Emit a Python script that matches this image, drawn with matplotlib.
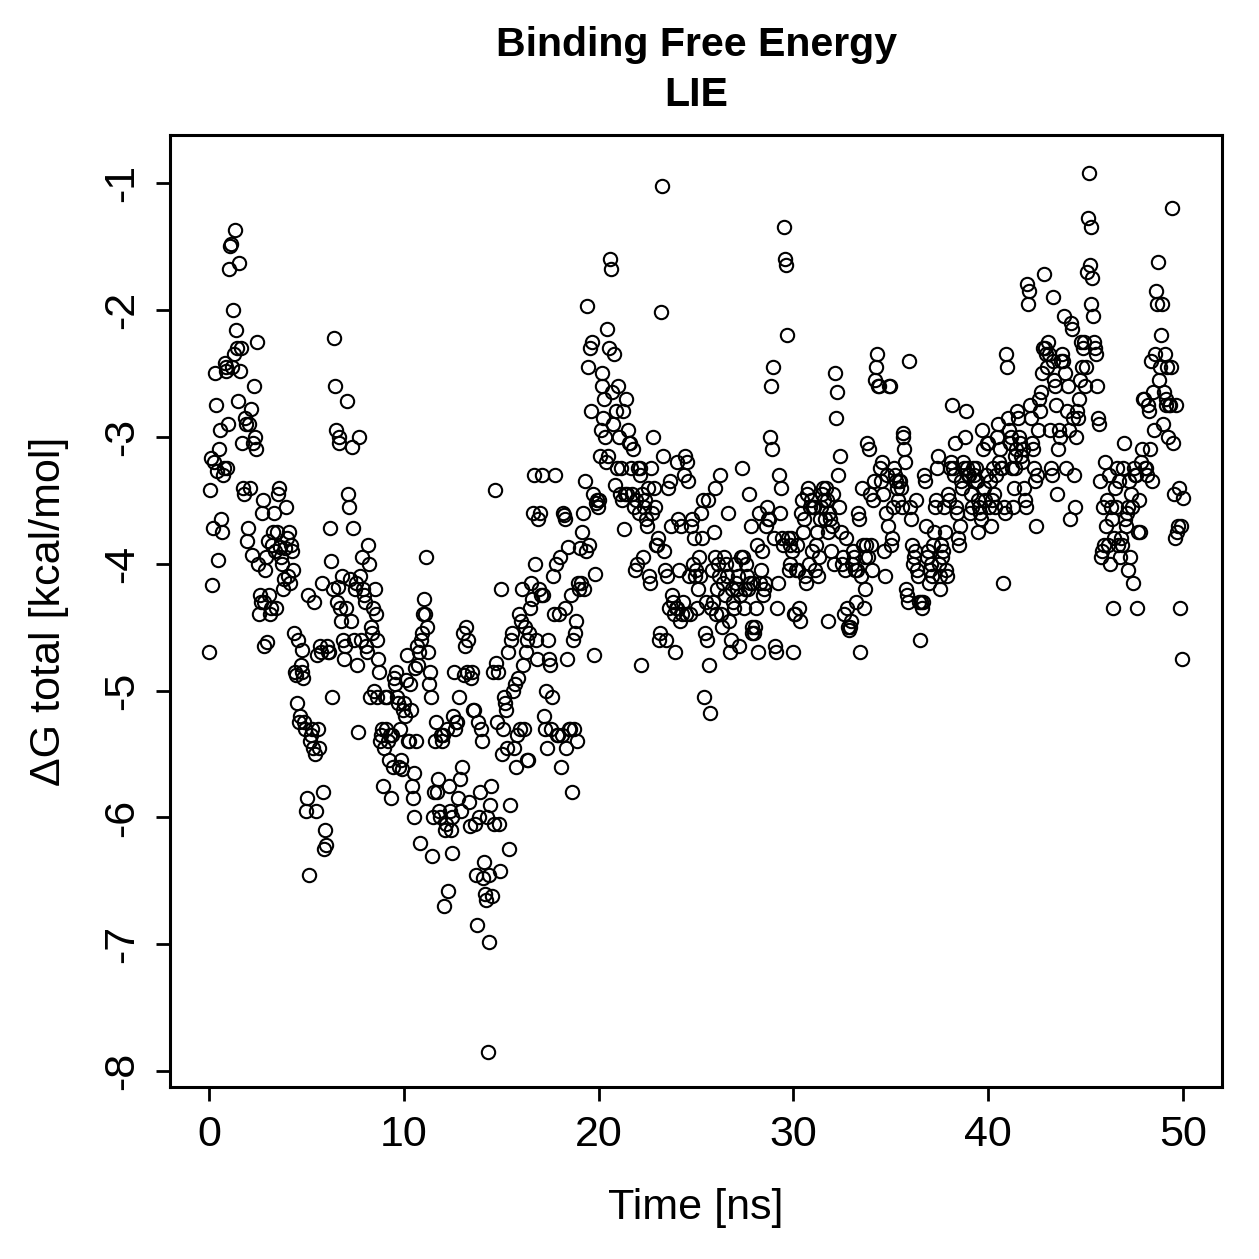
import matplotlib
matplotlib.use("Agg")
import matplotlib.pyplot as plt
import numpy as np

plt.rcParams['font.family'] = ['Liberation Sans', 'DejaVu Sans']

# Delta G values per nanosecond (20 frames per ns, 0.05 ns apart)
dg_by_ns = [
    [-4.7, -3.42, -3.17, -4.17, -3.72, -3.2, -2.5, -2.75, -3.27, -3.97, -3.1, -2.95, -3.65, -3.75, -3.3, -3.25, -2.42, -2.45, -2.48, -3.25],
    [-2.9, -1.68, -1.5, -1.48, -2.45, -2.0, -2.35, -1.37, -2.16, -2.3, -2.72, -1.63, -2.48, -2.3, -3.05, -3.4, -3.45, -2.85, -2.9, -3.82],
    [-3.72, -2.9, -3.4, -2.78, -3.93, -3.05, -2.6, -3.0, -3.1, -2.25, -4.0, -4.4, -4.25, -4.3, -3.6, -3.5, -4.65, -4.3, -4.05, -3.95],
    [-4.62, -3.82, -4.25, -4.4, -4.35, -3.85, -3.75, -3.6, -3.9, -4.35, -3.75, -3.45, -3.4, -3.87, -3.95, -4.0, -4.2, -4.12, -3.88, -3.55],
    [-3.8, -4.1, -3.75, -4.15, -3.85, -3.9, -4.05, -4.55, -4.85, -4.88, -5.1, -4.6, -5.25, -5.2, -4.8, -4.68, -4.85, -4.9, -5.25, -5.3],
    [-5.95, -5.85, -4.25, -6.45, -5.4, -5.35, -5.3, -5.45, -4.3, -5.5, -5.95, -4.72, -5.3, -5.45, -4.65, -4.7, -4.15, -5.8, -6.25, -6.1],
    [-6.22, -4.65, -4.7, -4.7, -3.72, -3.98, -5.05, -4.2, -2.22, -2.6, -2.95, -4.3, -4.18, -3.0, -3.05, -4.35, -4.45, -4.1, -4.6, -4.75],
    [-4.65, -4.35, -2.72, -3.45, -3.55, -4.12, -4.45, -3.08, -3.72, -4.6, -4.2, -4.15, -4.8, -5.33, -3.0, -4.1, -4.6, -3.95, -4.2, -4.25],
    [-4.3, -4.65, -4.7, -3.85, -4.0, -5.05, -4.5, -4.55, -4.35, -5.0, -4.2, -4.4, -4.6, -5.05, -4.75, -4.85, -5.4, -5.35, -5.3, -5.75],
    [-5.45, -5.05, -5.3, -5.05, -5.4, -5.55, -5.35, -5.85, -5.35, -5.6, -4.9, -4.95, -4.85, -5.05, -5.1, -5.6, -5.3, -5.55, -5.62, -5.15],
    [-5.1, -5.2, -4.92, -4.72, -5.4, -5.4, -4.95, -5.15, -5.75, -5.85, -6.0, -5.65, -4.82, -5.4, -4.65, -4.8, -4.7, -6.2, -4.6, -4.55],
    [-4.4, -4.28, -4.4, -3.95, -4.5, -4.7, -4.95, -4.85, -5.05, -6.3, -6.0, -5.8, -5.4, -5.25, -5.8, -5.7, -5.95, -6.0, -5.35, -5.4],
    [-5.35, -6.7, -6.1, -6.05, -5.3, -6.58, -5.75, -5.95, -6.1, -6.0, -6.28, -5.2, -4.85, -5.3, -5.25, -5.25, -5.85, -5.05, -5.7, -5.95],
    [-5.6, -4.55, -4.88, -4.65, -4.5, -4.85, -4.6, -5.88, -6.07, -4.9, -4.85, -5.15, -5.15, -6.05, -6.45, -6.85, -5.25, -6.0, -5.8, -5.3],
    [-5.4, -6.48, -6.35, -6.6, -6.65, -6.0, -7.85, -6.45, -6.98, -5.9, -5.75, -6.62, -4.85, -6.05, -3.42, -4.78, -5.25, -4.85, -6.05, -6.42],
    [-4.2, -5.5, -5.3, -5.05, -5.1, -5.15, -5.45, -4.7, -6.25, -5.9, -4.6, -4.55, -5.0, -5.45, -4.95, -5.6, -5.35, -4.9, -4.4, -5.3],
    [-4.45, -4.2, -4.8, -5.3, -4.5, -4.7, -5.55, -4.6, -5.55, -4.55, -4.35, -4.15, -4.28, -3.6, -3.3, -4.0, -4.6, -4.75, -3.65, -4.2],
    [-3.6, -4.25, -3.3, -4.25, -5.2, -5.3, -5.0, -5.45, -4.6, -4.75, -4.8, -5.3, -5.05, -4.1, -4.4, -3.3, -4.0, -5.35, -5.35, -4.4],
    [-3.95, -5.6, -5.35, -3.6, -3.62, -3.65, -4.35, -5.45, -4.75, -3.87, -5.3, -5.3, -4.25, -5.8, -4.6, -5.3, -4.55, -4.45, -5.4, -4.15],
    [-4.2, -3.88, -4.15, -3.75, -3.6, -4.2, -3.35, -3.9, -1.97, -2.45, -3.85, -2.3, -2.8, -2.25, -3.45, -4.72, -4.08, -3.52, -3.5, -3.55],
    [-3.5, -3.15, -2.95, -2.6, -2.5, -2.85, -2.7, -3.0, -3.2, -2.15, -3.15, -2.3, -1.6, -1.68, -2.65, -2.9, -2.35, -3.38, -2.8, -3.25],
    [-2.6, -3.0, -3.45, -3.25, -3.5, -2.8, -3.73, -3.45, -2.7, -3.45, -2.95, -3.05, -3.05, -3.25, -3.45, -3.1, -3.55, -4.05, -3.5, -4.0],
    [-3.25, -3.6, -3.3, -3.25, -4.8, -3.45, -3.95, -3.55, -3.5, -3.65, -3.7, -3.4, -4.1, -4.15, -3.25, -3.6, -3.0, -3.4, -3.55, -3.85],
    [-3.85, -3.8, -4.6, -4.55, -2.02, -1.02, -3.15, -3.9, -4.05, -4.6, -4.1, -3.4, -4.35, -3.35, -3.7, -4.25, -4.3, -4.4, -4.7, -4.35],
    [-4.35, -3.2, -3.65, -4.05, -4.45, -3.7, -4.4, -4.3, -3.3, -3.15, -4.4, -3.2, -3.35, -4.1, -4.4, -3.7, -3.65, -4.0, -3.8, -4.1],
    [-4.05, -4.35, -4.2, -3.95, -4.1, -3.6, -3.8, -3.5, -5.05, -4.55, -4.3, -4.6, -3.5, -4.8, -5.18, -4.35, -4.05, -4.3, -3.75, -3.95],
    [-3.4, -4.4, -4.2, -4.0, -4.1, -3.3, -4.4, -4.5, -4.15, -3.95, -4.25, -4.0, -4.1, -3.6, -4.45, -4.7, -4.6, -4.2, -4.3, -4.35],
    [-4.0, -4.15, -4.2, -4.1, -4.65, -4.25, -3.95, -3.25, -3.95, -4.35, -4.2, -4.0, -4.1, -4.2, -3.45, -4.15, -3.7, -4.55, -4.5, -4.15],
    [-4.55, -4.5, -4.35, -3.85, -4.7, -3.6, -4.15, -4.05, -3.9, -4.25, -4.2, -4.15, -3.7, -3.55, -3.65, -3.65, -3.0, -2.6, -3.1, -2.45],
    [-3.8, -4.65, -4.7, -4.35, -4.15, -3.3, -3.6, -3.4, -3.8, -3.85, -1.35, -1.6, -1.65, -2.2, -3.8, -4.05, -3.85, -4.0, -3.8, -3.9],
    [-4.7, -4.4, -4.4, -4.05, -3.85, -4.05, -4.35, -4.45, -3.6, -3.5, -3.75, -3.65, -4.1, -4.15, -3.45, -3.4, -4.0, -3.55, -3.5, -3.9],
    [-3.55, -3.55, -4.05, -3.85, -3.75, -4.1, -3.95, -3.65, -3.55, -3.45, -3.4, -3.5, -3.65, -3.4, -3.5, -4.45, -3.75, -3.6, -3.65, -3.9],
    [-3.7, -3.45, -4.0, -2.5, -2.85, -2.65, -3.3, -3.55, -3.15, -3.75, -4.0, -3.95, -4.4, -4.05, -3.8, -4.35, -4.5, -4.52, -4.5, -4.45],
    [-4.0, -3.9, -3.95, -4.05, -4.3, -4.05, -3.6, -3.65, -4.7, -4.1, -3.4, -3.85, -4.35, -3.95, -4.2, -3.85, -3.05, -3.95, -3.1, -3.45],
    [-3.85, -4.05, -3.5, -3.35, -2.55, -2.45, -2.35, -2.6, -2.6, -3.25, -3.35, -3.2, -3.45, -3.9, -4.1, -3.6, -3.3, -3.7, -2.6, -2.6],
    [-3.85, -3.8, -3.55, -3.25, -3.3, -3.35, -3.4, -3.5, -3.35, -3.35, -3.4, -3.55, -2.97, -3.0, -3.1, -3.2, -4.2, -4.25, -4.3, -2.4],
    [-3.55, -3.65, -3.85, -4.0, -3.95, -3.9, -3.5, -4.05, -4.1, -4.3, -4.6, -4.3, -4.35, -4.3, -3.3, -3.35, -3.7, -3.95, -3.9, -4.15],
    [-4.05, -4.0, -4.1, -3.85, -3.75, -3.55, -3.5, -3.25, -3.15, -4.0, -4.1, -4.2, -3.85, -3.95, -3.9, -3.55, -3.75, -4.05, -4.1, -3.45],
    [-3.5, -3.25, -3.2, -2.75, -3.25, -3.3, -3.05, -3.55, -3.6, -3.8, -3.85, -3.7, -3.35, -3.4, -3.2, -3.25, -3.0, -2.8, -3.25, -3.3],
    [-3.3, -3.6, -3.45, -3.55, -3.25, -3.3, -3.35, -3.25, -3.35, -3.5, -3.75, -3.55, -3.6, -3.65, -2.95, -3.1, -3.4, -3.5, -3.3, -3.05],
    [-3.05, -3.55, -3.35, -3.7, -3.5, -3.25, -3.45, -3.55, -3.3, -3.0, -2.9, -3.2, -3.1, -3.25, -3.25, -4.15, -3.55, -3.6, -2.35, -2.45],
    [-2.85, -2.95, -3.05, -3.0, -3.25, -3.55, -3.4, -3.25, -3.15, -3.1, -2.8, -2.85, -3.0, -3.05, -3.15, -3.2, -3.1, -3.4, -3.5, -3.55],
    [-1.8, -1.95, -1.85, -2.75, -2.85, -3.05, -3.1, -3.25, -3.35, -3.7, -3.3, -2.95, -2.7, -2.8, -2.65, -2.5, -2.3, -1.72, -2.3, -2.35],
    [-2.45, -2.25, -2.35, -2.95, -3.25, -3.3, -2.4, -1.9, -2.55, -2.6, -2.75, -3.45, -3.1, -2.95, -3.0, -2.4, -2.35, -2.4, -2.05, -2.5],
    [-3.25, -2.8, -2.6, -2.95, -3.65, -2.1, -2.15, -2.85, -3.3, -3.55, -3.0, -2.8, -2.85, -2.7, -2.55, -2.25, -2.45, -2.3, -2.25, -2.6],
    [-2.45, -1.7, -1.28, -0.92, -1.65, -1.35, -1.95, -1.75, -2.05, -2.25, -2.3, -2.35, -2.6, -2.85, -2.9, -3.35, -3.95, -3.9, -3.55, -3.85],
    [-3.2, -3.7, -3.5, -3.85, -3.3, -4.0, -3.55, -3.65, -4.35, -3.8, -3.4, -3.55, -3.25, -3.85, -3.35, -3.95, -3.8, -3.85, -3.25, -3.05],
    [-3.65, -3.7, -3.6, -4.05, -3.55, -3.35, -3.95, -3.45, -3.55, -4.15, -3.25, -3.3, -3.3, -4.35, -3.75, -3.5, -3.75, -3.2, -3.1, -2.7],
    [-2.7, -3.25, -3.25, -3.3, -2.75, -2.8, -3.1, -2.4, -3.35, -2.65, -2.95, -2.35, -1.85, -1.95, -1.62, -2.55, -2.45, -2.2, -1.95, -2.9],
    [-2.65, -2.35, -2.7, -2.75, -2.45, -3.0, -2.75, -2.75, -2.45, -1.2, -3.05, -3.45, -3.8, -2.75, -3.75, -3.7, -3.4, -4.35, -3.7, -4.75, -3.48],
]
frame_step = 0.05  # ns between frames

time_ns = np.concatenate([i + frame_step * np.arange(len(row)) for i, row in enumerate(dg_by_ns)])
dg_total = np.concatenate([np.array(row) for row in dg_by_ns])

x_ticks = [0, 10, 20, 30, 40, 50]
y_ticks = [-8, -7, -6, -5, -4, -3, -2, -1]

fig = plt.figure(figsize=(6.295, 6.295), dpi=200)
ax = fig.add_axes([170 / 1259, 1 - 1087 / 1259, (1222 - 170) / 1259, (1087 - 135) / 1259])

ax.plot(time_ns, dg_total, 'o', mfc='none', mec='black', ms=4.8, mew=0.75)

ax.set_xlim(-2, 52)
ax.set_ylim(-8.124, -0.622)
ax.set_xticks(x_ticks)
ax.set_yticks(y_ticks)
ax.set_yticklabels([str(v) for v in y_ticks], rotation=90, va='center')
ax.tick_params(direction='out', length=5, width=1.0, labelsize=15.5, pad=5)
for s in ax.spines.values():
    s.set_linewidth(1.1)

ax.set_xlabel('Time [ns]', fontsize=15.5, labelpad=12)
ax.set_ylabel('ΔG total [kcal/mol]', fontsize=15.5, labelpad=12)

fig.text(0.553, 1 - 45 / 1259, 'Binding Free Energy', ha='center', va='center',
         fontsize=14.8, fontweight='bold')
fig.text(0.553, 1 - 95 / 1259, 'LIE', ha='center', va='center',
         fontsize=14.8, fontweight='bold')

fig.savefig('out.png', dpi=200)
